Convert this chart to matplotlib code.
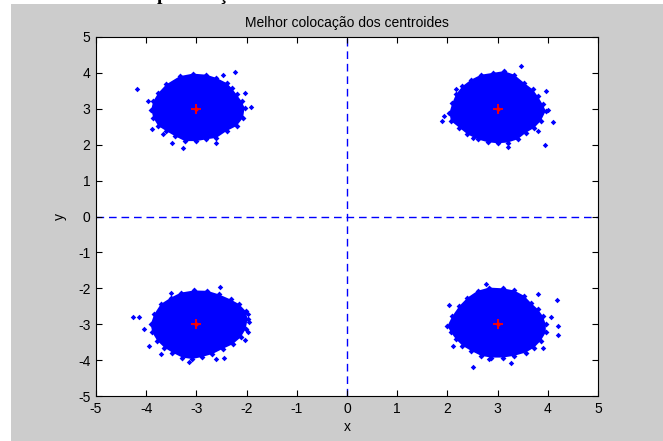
import matplotlib
matplotlib.use("Agg")
import matplotlib.pyplot as plt
from matplotlib.patches import Rectangle

# ---- data ----
centroid_x = [-3, 3, -3, 3]
centroid_y = [3, 3, -3, -3]

# dense-core outlines (offsets from the centroid)
ul_dx = [-0.76, -0.60, -0.33, -0.07, 0.20, 0.40, 0.60, 0.70, 0.80, 0.90, 0.96, 0.93, 0.80, 0.60, 0.40, 0.20, 0.00, -0.23, -0.43, -0.60, -0.76, -0.86, -0.90, -0.86]
ul_dy = [0.44, 0.68, 0.91, 0.98, 0.95, 0.86, 0.72, 0.58, 0.40, 0.21, 0.03, -0.25, -0.48, -0.62, -0.81, -0.85, -0.90, -0.90, -0.76, -0.62, -0.48, -0.25, -0.02, 0.21]
ur_dx = [-0.90, -0.83, -0.70, -0.53, -0.33, -0.10, 0.13, 0.33, 0.53, 0.70, 0.80, 0.90, 0.96, 0.86, 0.73, 0.56, 0.40, 0.20, 0.00, -0.20, -0.40, -0.60, -0.76, -0.93, -0.96]
ur_dy = [0.17, 0.40, 0.63, 0.81, 0.95, 1.00, 1.05, 0.95, 0.72, 0.54, 0.35, 0.12, -0.06, -0.34, -0.53, -0.67, -0.85, -0.94, -0.96, -0.93, -0.85, -0.71, -0.53, -0.34, -0.11]
ll_dx = [-0.91, -0.84, -0.71, -0.51, -0.31, -0.05, 0.22, 0.45, 0.68, 0.85, 0.98, 1.02, 0.98, 0.88, 0.72, 0.52, 0.32, 0.12, -0.08, -0.28, -0.48, -0.64, -0.78, -0.88]
ll_dy = [0.00, 0.28, 0.56, 0.74, 0.88, 0.94, 0.93, 0.83, 0.69, 0.56, 0.37, 0.14, -0.14, -0.37, -0.56, -0.69, -0.83, -0.91, -0.97, -0.93, -0.79, -0.65, -0.46, -0.23]
lr_dx = [-1.00, -0.90, -0.76, -0.60, -0.40, -0.17, 0.10, 0.33, 0.53, 0.66, 0.80, 0.90, 0.96, 0.96, 0.86, 0.73, 0.56, 0.33, 0.10, -0.13, -0.33, -0.53, -0.70, -0.83, -0.93]
lr_dy = [-0.05, 0.23, 0.51, 0.74, 0.93, 1.02, 1.00, 0.94, 0.79, 0.60, 0.42, 0.23, 0.00, -0.23, -0.46, -0.65, -0.79, -0.88, -0.93, -0.93, -0.88, -0.74, -0.60, -0.42, -0.23]

# isolated points outside the cores (offsets from the centroid)
ul_out_dx = [-1.18, 0.76, 0.53, 0.96, 1.08, -0.88, -0.27, -0.48, 0.40, -0.66, -0.96]
ul_out_dy = [0.54, 1.02, 0.94, 0.44, 0.05, -0.57, -1.08, -0.94, -0.96, -0.71, 0.21]
ur_out_dx = [0.46, 0.96, 1.10, 0.95, 0.20, -1.10, -1.06, -0.83, 1.00, 0.80, -0.50]
ur_out_dy = [1.19, 0.49, -0.37, -1.02, -1.06, -0.34, -0.20, 0.54, -0.02, -0.62, -0.81]
ll_out_dx = [-1.27, -1.14, 0.48, 1.02, 1.05, 1.02, 0.96, -0.94, -0.71, -0.15, 0.39, -1.04, -0.51, 0.55]
ll_out_dy = [0.19, 0.19, 1.04, 0.28, 0.05, -0.23, -0.44, -0.60, -0.83, -1.06, -0.97, -0.14, 0.88, -0.93]
lr_out_dx = [-0.23, 0.80, 1.18, 1.20, 1.21, 1.06, -0.96, -0.88, -0.50, 0.27, -0.17, 0.90]
lr_out_dy = [1.13, 0.83, 0.67, -0.05, -0.30, 0.20, 0.54, -0.60, -1.19, -1.09, -0.97, -0.65]

x_ticks = [-5, -4, -3, -2, -1, 0, 1, 2, 3, 4, 5]
y_ticks = [-5, -4, -3, -2, -1, 0, 1, 2, 3, 4, 5]
title = "Melhor colocação dos centroides"

outlines = [(ul_dx, ul_dy), (ur_dx, ur_dy), (ll_dx, ll_dy), (lr_dx, lr_dy)]
outliers = [(ul_out_dx, ul_out_dy), (ur_out_dx, ur_out_dy), (ll_out_dx, ll_out_dy), (lr_out_dx, lr_out_dy)]

plt.rcParams['font.family'] = ['Liberation Sans', 'DejaVu Sans']
plt.rcParams['axes.unicode_minus'] = False

W, H = 663, 441
fig = plt.figure(figsize=(W / 100, H / 100), dpi=100, facecolor='white')
fig.patches.append(Rectangle((11 / W, 0), 1, (H - 4) / H, transform=fig.transFigure,
                             facecolor='#cccccc', edgecolor='none', zorder=-10))
# cropped document text fragments above the figure (partly hidden behind it)
fig.text(157 / W, 1.0, "p", fontsize=14, fontweight='bold', family='Liberation Serif',
         va='baseline', ha='left', zorder=-20)
fig.text(218 / W, 1.0, "ç", fontsize=14, fontweight='bold', family='Liberation Serif',
         va='baseline', ha='left', zorder=-20)

ax = fig.add_axes([96 / W, (H - 396) / H, (598 - 96) / W, (396 - 37) / H])
ax.set_facecolor('white')

blue = (0, 0, 1)
for (cx, cy, (dx, dy), (odx, ody)) in zip(centroid_x, centroid_y, outlines, outliers):
    xs = [cx + v for v in dx]
    ys = [cy + v for v in dy]
    ax.fill(xs, ys, color=blue, lw=0, zorder=2)
    ax.plot(xs, ys, 'D', color=blue, ms=3, mew=0, zorder=2, ls='none')
    ax.plot([cx + v for v in odx], [cy + v for v in ody], 'D', color=blue, ms=2.8,
            mew=0, zorder=2, ls='none')

ax.axvline(0, color=blue, ls=(0, (5.5, 3.5)), lw=1, zorder=1)
ax.axhline(0, color=blue, ls=(0, (5.5, 3.5)), lw=1, zorder=1)

ax.plot(centroid_x, centroid_y, '+', color='red', ms=7, mew=1.3, ls='none', zorder=3)
ax.plot(centroid_x, centroid_y, 'o', color='red', ms=3, mew=0, ls='none', zorder=3)

ax.set_xlim(-5, 5)
ax.set_ylim(-5, 5)
ax.set_xticks(x_ticks)
ax.set_yticks(y_ticks)
ax.tick_params(direction='in', length=4, width=0.8, top=True, right=True,
               labelsize=10, pad=4, colors='black')
for s in ax.spines.values():
    s.set_linewidth(0.8)
    s.set_color('black')
ax.set_title(title, fontsize=10, pad=7)
ax.set_xlabel('x', fontsize=10, labelpad=3)
ax.set_ylabel('y', fontsize=10, labelpad=8)

fig.savefig('out.png', dpi=100, facecolor=fig.get_facecolor())
